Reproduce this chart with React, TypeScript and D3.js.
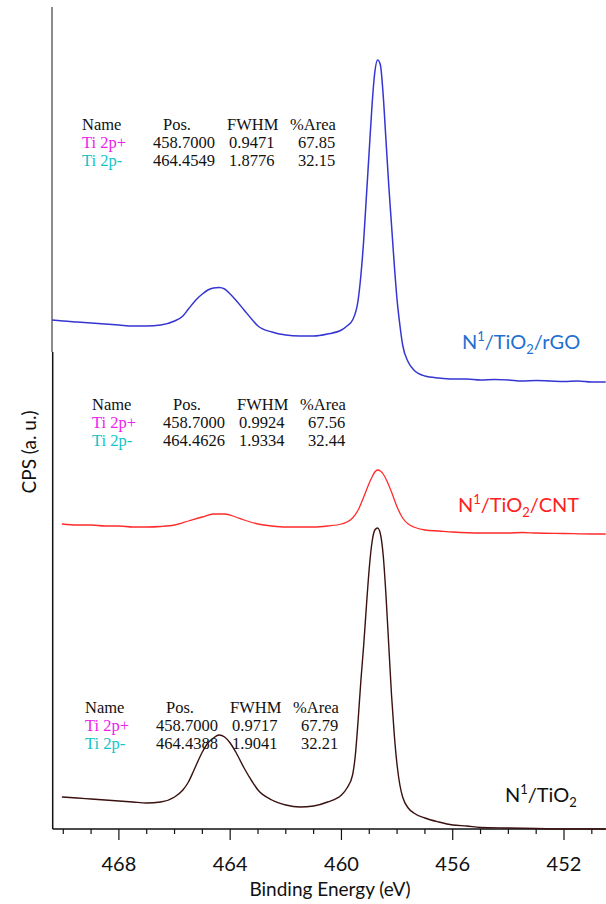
import * as d3 from "d3";

// binding energy (eV) sample points, one list per spectrum, intensity in a.u. (stacked)
const rgoEnergy = [470.4, 470, 469.5, 469, 468.5, 468, 467.5, 467, 466.5, 466, 465.7, 465.5, 465.2, 465, 464.8, 464.6, 464.4, 464.2, 464, 463.8, 463.5, 463.2, 463, 462.5, 462, 461.5, 461, 460.5, 460, 459.8, 459.6, 459.4, 459.3, 459.2, 459.1, 459.0, 458.9, 458.8, 458.7, 458.6, 458.5, 458.4, 458.3, 458.2, 458.1, 458.0, 457.9, 457.8, 457.6, 457.4, 457, 456.5, 456, 455.5, 455, 454.5, 454, 453.5, 453, 452.5, 452, 451.5, 451, 450.5];
const rgoCps = [10.18, 10.16, 10.14, 10.12, 10.1, 10.08, 10.06, 10.06, 10.08, 10.16, 10.26, 10.4, 10.6, 10.7, 10.78, 10.82, 10.83, 10.8, 10.7, 10.58, 10.38, 10.18, 10.06, 9.94, 9.88, 9.86, 9.86, 9.9, 9.98, 10.06, 10.18, 10.58, 11.08, 11.78, 12.68, 13.58, 14.48, 15.14, 15.38, 15.28, 14.68, 13.78, 12.88, 12.08, 11.28, 10.58, 10.08, 9.68, 9.34, 9.18, 9.06, 9.02, 9.0, 9.0, 8.98, 8.99, 8.98, 8.96, 8.97, 8.96, 8.95, 8.96, 8.94, 8.94];

const cntEnergy = [470.05, 469.5, 469, 468.5, 468, 467.5, 467, 466.5, 466, 465.5, 465, 464.6, 464.2, 463.8, 463.5, 463, 462.5, 462, 461.5, 461, 460.5, 460, 459.8, 459.6, 459.4, 459.2, 459.0, 458.9, 458.8, 458.7, 458.6, 458.5, 458.4, 458.2, 458.0, 457.8, 457.6, 457.4, 457, 456.5, 456, 455, 454, 453.5, 453, 452, 451, 450.5];
const cntCps = [6.1, 6.08, 6.08, 6.06, 6.06, 6.04, 6.04, 6.05, 6.08, 6.16, 6.24, 6.3, 6.3, 6.24, 6.18, 6.1, 6.06, 6.04, 6.04, 6.04, 6.06, 6.1, 6.14, 6.22, 6.38, 6.64, 6.92, 7.04, 7.14, 7.18, 7.16, 7.1, 7.0, 6.74, 6.44, 6.22, 6.1, 6.04, 5.98, 5.96, 5.94, 5.92, 5.92, 5.93, 5.92, 5.91, 5.9, 5.9];

const tioEnergy = [470.05, 469.5, 469, 468.5, 468, 467.5, 467, 466.5, 466, 465.7, 465.5, 465.3, 465, 464.8, 464.6, 464.4, 464.2, 464, 463.8, 463.5, 463.2, 463, 462.5, 462, 461.5, 461, 460.5, 460, 459.8, 459.6, 459.5, 459.4, 459.3, 459.2, 459.1, 459.0, 458.9, 458.8, 458.7, 458.6, 458.5, 458.4, 458.3, 458.2, 458.1, 458.0, 457.9, 457.8, 457.6, 457.4, 457, 456.5, 456, 455.5, 455, 454, 453, 452, 451, 450.5];
const tioCps = [0.64, 0.62, 0.6, 0.58, 0.56, 0.54, 0.52, 0.54, 0.64, 0.78, 0.94, 1.18, 1.54, 1.72, 1.82, 1.88, 1.84, 1.72, 1.54, 1.22, 0.94, 0.78, 0.58, 0.48, 0.44, 0.46, 0.54, 0.68, 0.82, 1.08, 1.48, 2.18, 2.98, 3.68, 4.48, 5.22, 5.74, 5.98, 6.02, 5.9, 5.48, 4.68, 3.68, 2.68, 1.88, 1.28, 0.88, 0.64, 0.42, 0.32, 0.22, 0.14, 0.08, 0.06, 0.03, 0.02, 0.01, 0, 0, 0];

const majorTicks = [468, 464, 460, 456, 452];
const minorTicks = d3.range(470, 450, -1);

const tableHead = ["Name", "Pos.", "FWHM", "%Area"];
const rgoFit = [["Ti 2p+", "458.7000", "0.9471", "67.85"], ["Ti 2p-", "464.4549", "1.8776", "32.15"]];
const cntFit = [["Ti 2p+", "458.7000", "0.9924", "67.56"], ["Ti 2p-", "464.4626", "1.9334", "32.44"]];
const tioFit = [["Ti 2p+", "458.7000", "0.9717", "67.79"], ["Ti 2p-", "464.4388", "1.9041", "32.21"]];

const W = 606;
const H = 904;
const sans = "Lato, 'Open Sans', sans-serif";
const serif = "'Liberation Serif', 'Times New Roman', serif";

const x = d3.scaleLinear().domain([470.38, 450.49]).range([52.7, 606]);
const y = d3.scaleLinear().domain([0, 16.5]).range([829, 4]);

function path(e: number[], v: number[]) {
  const line = d3
    .line<number>()
    .x((_, i) => x(e[i]))
    .y((d) => y(d))
    .curve(d3.curveMonotoneX);
  return line(v) || "";
}

function FitTable({ x0, y0, rows }: { x0: number; y0: number; rows: string[][] }) {
  const headX = [0, 81, 145, 208];
  const valX = [0, 71, 147, 216];
  const rowColor = ["#ee22ee", "#11c4c8"];
  return (
    <g fontFamily={serif} fontSize={16.5} fill="#111">
      {tableHead.map((h, i) => (
        <text key={h} x={x0 + headX[i]} y={y0}>
          {h}
        </text>
      ))}
      {rows.map((r, j) =>
        r.map((c, i) => (
          <text
            key={j + "-" + i}
            x={x0 + valX[i]}
            y={y0 + 18 * (j + 1)}
            fill={i == 0 ? rowColor[j] : "#111"}
          >
            {c}
          </text>
        ))
      )}
    </g>
  );
}

function Label({ x0, y0, color, tail }: { x0: number; y0: number; color: string; tail: string }) {
  return (
    <text x={x0} y={y0} fontFamily={sans} fontSize={20} fill={color}>
      N
      <tspan fontSize={13} dy={-8}>1</tspan>
      <tspan dy={8}>/TiO</tspan>
      <tspan fontSize={13} dy={5}>2</tspan>
      <tspan dy={-5}>{tail}</tspan>
    </text>
  );
}

export default function App() {
  return (
    <svg width={W} height={H} style={{ position: "absolute", left: 0, top: 0, background: "#fff" }}>
      {/* frames */}
      <line x1={52} x2={52} y1={7} y2={352} stroke="#666" strokeWidth={1.5} />
      <line x1={52.7} x2={52.7} y1={352} y2={829} stroke="#111" strokeWidth={1.5} />
      <line x1={52.7} x2={606} y1={829} y2={829} stroke="#111" strokeWidth={1.5} />

      {minorTicks.map((t) => (
        <line key={t} x1={x(t)} x2={x(t)} y1={829} y2={majorTicks.includes(t) ? 840 : 834} stroke="#111" strokeWidth={1.2} />
      ))}
      {majorTicks.map((t) => (
        <text key={t} x={x(t)} y={871} textAnchor="middle" fontFamily={sans} fontSize={20} fill="#111">
          {t}
        </text>
      ))}
      <text x={330} y={896} textAnchor="middle" fontFamily={sans} fontSize={19} fill="#111">
        Binding Energy (eV)
      </text>
      <text
        transform="translate(36,452) rotate(-90)"
        textAnchor="middle"
        fontFamily={sans}
        fontSize={19}
        fill="#111"
      >
        CPS (a. u.)
      </text>

      {/* spectra */}
      <path d={path(rgoEnergy, rgoCps)} fill="none" stroke="#3535d2" strokeWidth={1.5} />
      <path d={path(cntEnergy, cntCps)} fill="none" stroke="#ff2a2a" strokeWidth={1.3} />
      <path d={path(tioEnergy, tioCps)} fill="none" stroke="#3a1010" strokeWidth={1.4} />

      <Label x0={462} y0={349} color="#1f6fd0" tail="/rGO" />
      <Label x0={458} y0={512} color="#ff2020" tail="/CNT" />
      <Label x0={505} y0={802} color="#111" tail="" />

      <FitTable x0={82} y0={130} rows={rgoFit} />
      <FitTable x0={92} y0={410} rows={cntFit} />
      <FitTable x0={85} y0={713} rows={tioFit} />
    </svg>
  );
}
